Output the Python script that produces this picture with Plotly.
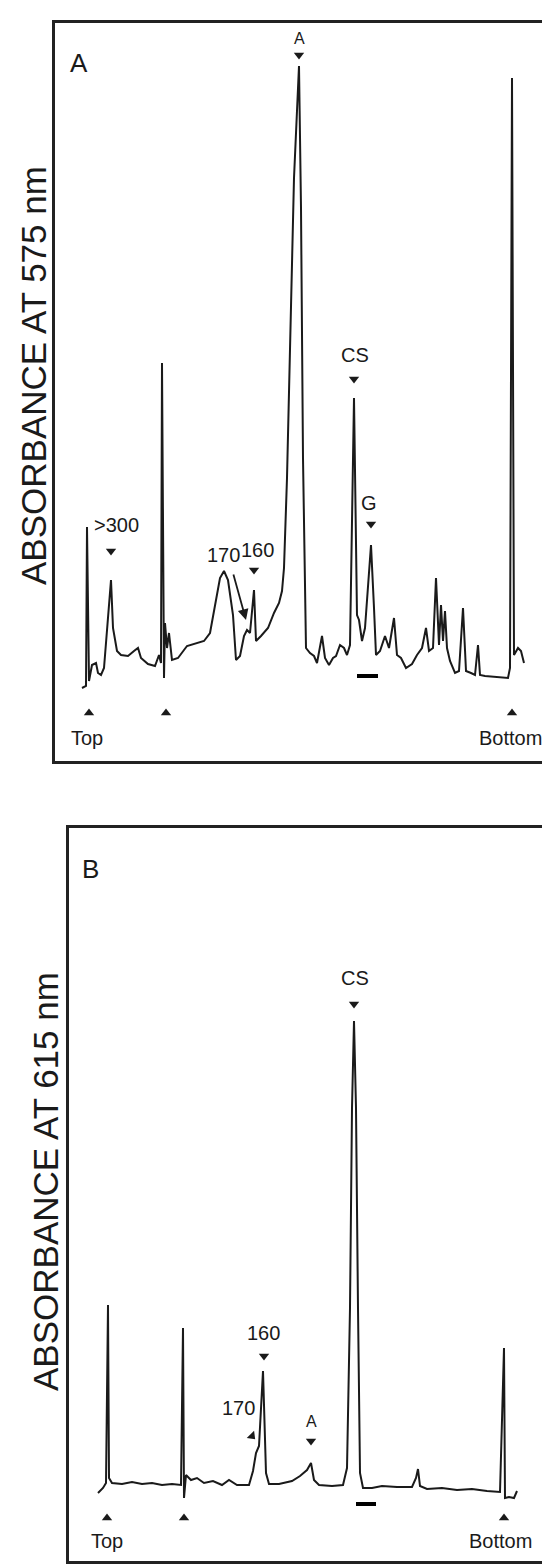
import plotly.graph_objects as go

# Panel A: density gradient scan read at 575 nm
# x = distance from top of gradient, y = absorbance (arbitrary units)
a_dist = [27, 31, 32, 34, 37, 41, 43, 46, 49, 53, 56, 58, 62, 66, 73, 79, 83, 86, 93, 100,
          104, 106, 107, 109, 110, 112, 114, 117, 123, 132, 139, 149, 155, 160, 165, 169, 173, 178, 181, 185,
          189, 192, 195, 199, 201, 206, 213, 219, 224, 227, 229, 232, 235, 239, 244, 246, 248, 251, 255, 259,
          262, 265, 267, 270, 274, 278, 281, 285, 289, 292, 295, 299, 302, 304, 307, 310, 313, 316, 319, 321,
          325, 330, 334, 339, 342, 346, 351, 357, 362, 367, 371, 374, 378, 381, 384, 386, 388, 390, 392, 395,
          400, 404, 408, 411, 416, 420, 423, 425, 430, 444, 453, 455, 457, 459, 463, 466, 469]
a_abs = [73, 75, 234, 80, 96, 98, 88, 86, 93, 140, 181, 133, 110, 106, 105, 110, 113, 103, 97, 95,
         106, 98, 398, 83, 138, 113, 128, 101, 103, 115, 117, 120, 128, 156, 183, 190, 181, 146, 101, 105,
         125, 131, 128, 171, 120, 125, 133, 148, 158, 170, 193, 283, 423, 583, 695, 553, 303, 113, 108, 105,
         98, 113, 125, 103, 96, 103, 105, 116, 113, 106, 116, 363, 146, 141, 120, 133, 178, 216, 153, 106,
         110, 125, 113, 143, 106, 103, 93, 97, 106, 113, 133, 110, 113, 183, 116, 156, 120, 150, 113, 100,
         88, 90, 153, 90, 88, 86, 116, 86, 85, 84, 83, 93, 683, 106, 113, 110, 98]

# Panel B: same gradient read at 615 nm
b_dist = [29, 34, 37, 39, 40, 43, 53, 63, 73, 83, 93, 103, 112, 114, 115, 117, 122, 128, 135, 144,
          153, 160, 168, 180, 184, 187, 190, 194, 197, 200, 210, 223, 231, 238, 242, 245, 250, 263, 274, 278,
          281, 283, 285, 287, 289, 291, 294, 303, 313, 328, 343, 347, 349, 351, 358, 373, 388, 403, 418, 431,
          435, 436, 440, 445, 448]
b_abs = [68, 73, 78, 256, 83, 78, 77, 79, 77, 78, 76, 77, 76, 233, 63, 86, 81, 83, 78, 80,
         76, 81, 76, 76, 90, 108, 115, 190, 88, 77, 77, 80, 85, 91, 98, 81, 76, 75, 76, 93,
         253, 453, 540, 453, 253, 88, 73, 73, 75, 74, 74, 83, 92, 75, 72, 73, 71, 72, 70, 69,
         213, 63, 64, 63, 70]

# peak labels with their arrowheads
a_peak_text = [">300", "160", "CS", "G"]
a_peak_text_x = [61, 202, 300, 314]
a_peak_text_y = [236, 211, 406, 258]
a_peak_arrow_x = [56, 199, 299, 316]
a_peak_arrow_y = [210, 191, 382, 237]

b_peak_text = ["CS", "160"]
b_peak_text_x = [286, 194]
b_peak_text_y = [583, 228]
b_peak_arrow_x = [285, 195]
b_peak_arrow_y = [557, 205]

# gradient marks under the trace
a_mark_x = [34, 111, 457]
b_mark_x = [38, 115, 435]

INK = "#1a1a1a"
FONT = "Liberation Sans, Arial"
LABEL_SIZE = 20

fig = go.Figure()

fig.add_trace(go.Scatter(x=a_dist, y=a_abs, mode="lines",
                         line=dict(color=INK, width=2), xaxis="x", yaxis="y"))
fig.add_trace(go.Scatter(x=b_dist, y=b_abs, mode="lines",
                         line=dict(color=INK, width=2), xaxis="x2", yaxis="y2"))

# arrowheads pointing at peaks
fig.add_trace(go.Scatter(x=a_peak_arrow_x + [244], y=a_peak_arrow_y + [706], mode="markers",
                         marker=dict(symbol="triangle-down", size=9, color=INK),
                         xaxis="x", yaxis="y"))
fig.add_trace(go.Scatter(x=b_peak_arrow_x + [242], y=b_peak_arrow_y + [120], mode="markers",
                         marker=dict(symbol="triangle-down", size=9, color=INK),
                         xaxis="x2", yaxis="y2"))
# tilted arrowhead for the 170 shoulder in panel B
fig.add_trace(go.Scatter(x=[183], y=[125], mode="markers",
                         marker=dict(symbol="triangle-down", size=9, color=INK, angle=-45),
                         xaxis="x2", yaxis="y2"))
# arrowheads pointing up at gradient marks
fig.add_trace(go.Scatter(x=a_mark_x, y=[48] * len(a_mark_x), mode="markers",
                         marker=dict(symbol="triangle-up", size=9, color=INK),
                         xaxis="x", yaxis="y"))
fig.add_trace(go.Scatter(x=b_mark_x, y=[43] * len(b_mark_x), mode="markers",
                         marker=dict(symbol="triangle-up", size=9, color=INK),
                         xaxis="x2", yaxis="y2"))
# short black bars under CS
fig.add_trace(go.Scatter(x=[302, 323], y=[85, 85], mode="lines",
                         line=dict(color="black", width=4), xaxis="x", yaxis="y"))
fig.add_trace(go.Scatter(x=[287, 307], y=[57, 57], mode="lines",
                         line=dict(color="black", width=4), xaxis="x2", yaxis="y2"))

annotations = []


def label(text, x, y, ref, size=LABEL_SIZE):
    annotations.append(dict(text=text, x=x, y=y, xref="x" + ref, yref="y" + ref,
                            xanchor="center", yanchor="middle", showarrow=False,
                            font=dict(family=FONT, size=size, color=INK)))


for t, x, y in zip(a_peak_text, a_peak_text_x, a_peak_text_y):
    label(t, x, y, "")
for t, x, y in zip(b_peak_text, b_peak_text_x, b_peak_text_y):
    label(t, x, y, "2")

label("A", 24, 698, "", size=26)
label("B", 21, 692, "2", size=26)
label("A", 244, 722, "", size=16)
label("A", 242, 140, "2", size=16)
label("170", 168, 206, "")
label("170", 169, 153, "2")
label("Top", 32, 23, "")
label("Bottom", 455, 23, "")
label("Top", 38, 20, "2")
label("Bottom", 431, 20, "2")

# arrow for the 170 shoulder in panel A
annotations.append(dict(x=191, y=141, xref="x", yref="y", ax=-13, ay=-47, text="",
                        showarrow=True, arrowhead=2, arrowsize=1.2, arrowwidth=1.8, arrowcolor=INK))

# y axis titles
annotations.append(dict(text="ABSORBANCE AT 575 nm", x=25 / 550, y=1 - 368 / 1566,
                        xref="paper", yref="paper", xanchor="center", yanchor="middle",
                        textangle=-90, showarrow=False,
                        font=dict(family=FONT, size=35, color=INK)))
annotations.append(dict(text="ABSORBANCE AT 615 nm", x=37 / 550, y=1 - 1174 / 1566,
                        xref="paper", yref="paper", xanchor="center", yanchor="middle",
                        textangle=-90, showarrow=False,
                        font=dict(family=FONT, size=35, color=INK)))

frame = dict(showline=True, mirror=True, linecolor="#222", linewidth=2.5, showgrid=False,
             zeroline=False, showticklabels=False, ticks="", fixedrange=True)

fig.update_layout(
    width=550,
    height=1566,
    margin=dict(l=0, r=0, t=0, b=0),
    showlegend=False,
    plot_bgcolor="white",
    paper_bgcolor="white",
    xaxis=dict(domain=[47 / 550, 541 / 550], range=[0, 494], anchor="y", **frame),
    yaxis=dict(domain=[1 - 753 / 1566, 1 - 15 / 1566], range=[0, 738], anchor="x", **frame),
    xaxis2=dict(domain=[61 / 550, 536 / 550], range=[0, 475], anchor="y2", **frame),
    yaxis2=dict(domain=[1 - 1553 / 1566, 1 - 820 / 1566], range=[0, 733], anchor="x2", **frame),
    annotations=annotations,
)

fig.write_html("out.html")
